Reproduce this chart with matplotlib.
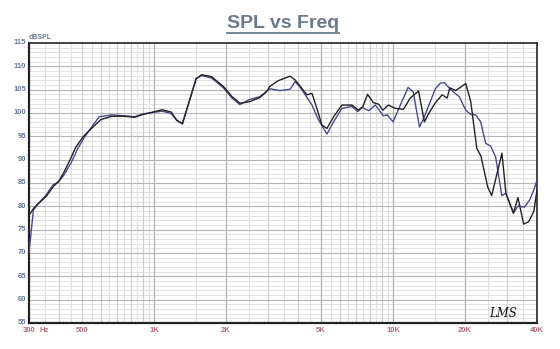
import matplotlib
matplotlib.use("Agg")
import matplotlib.pyplot as plt
import numpy as np
from matplotlib.lines import Line2D

# Frequency response, driver measured at two positions
freq_black = [300, 315, 335, 355, 380, 400, 420, 445, 470, 505, 545, 600, 665, 750,
              830, 900, 990, 1080, 1180, 1245, 1315, 1410, 1500, 1580, 1740, 1950,
              2120, 2290, 2500, 2770, 2950, 3050, 3300, 3710, 3890, 4360, 4580, 4800,
              5040, 5290, 5640, 6110, 6730, 7170, 7480, 7820, 8280, 8690, 9060, 9560,
              10190, 11050, 11790, 12780, 13520, 14100, 15030, 16040, 16840, 17270,
              18270, 20140, 21140, 22400, 23300, 24870, 25850, 28540, 29650, 31880,
              33290, 35160, 36920, 38790, 40000]
spl_black = [78.1, 79.7, 81.0, 82.2, 84.3, 85.4, 87.3, 89.9, 92.6, 94.9, 96.6, 98.6, 99.3, 99.3,
             99.1, 99.7, 100.2, 100.7, 100.2, 98.4, 97.8, 102.8, 107.3, 108.2, 107.8, 105.7,
             103.5, 102.1, 102.4, 103.3, 104.5, 105.7, 106.9, 107.9, 107.1, 103.9, 104.2, 101.0,
             97.4, 96.7, 99.2, 101.7, 101.7, 100.6, 101.4, 104.0, 102.2, 101.9, 100.6, 101.7,
             101.0, 100.8, 103.2, 104.7, 98.1, 99.9, 102.2, 103.9, 103.2, 105.4,
             104.8, 106.3, 102.4, 92.4, 90.8, 84.2, 82.3, 91.4, 82.8, 78.5,
             81.9, 76.2, 76.7, 78.9, 83.5]

freq_blue = [300, 313, 333, 350, 378, 398, 420, 450, 480, 510, 550, 590, 665, 750,
             830, 900, 990, 1080, 1180, 1245, 1315, 1410, 1500, 1580, 1740, 1950,
             2110, 2286, 2510, 2770, 3050, 3366, 3710, 3890, 4080, 4580, 4880, 5290,
             5640, 6110, 6730, 7110, 7420, 7910, 8430, 9110, 9450, 10000, 10660, 11560,
             12140, 12900, 13420, 15030, 15780, 16400, 17430, 18910, 20140, 21140,
             22160, 23250, 24400, 25600, 26850, 28500, 29650, 31880, 33400, 35400,
             37300, 38790, 40000]
spl_blue = [70.0, 79.2, 81.0, 82.1, 84.6, 85.2, 86.7, 89.3, 92.4, 94.7, 97.1, 99.2, 99.6, 99.4,
            99.2, 99.8, 100.1, 100.4, 99.9, 98.5, 97.6, 102.8, 107.4, 108.0, 107.5, 105.4,
            103.3, 101.8, 102.9, 103.5, 105.2, 104.8, 105.1, 106.7, 105.6, 101.7, 98.5, 95.5,
            98.1, 101.0, 101.4, 100.3, 101.2, 100.5, 101.7, 99.4, 99.6, 98.1, 101.4, 105.5,
            104.5, 97.0, 98.8, 105.2, 106.4, 106.5, 105.0, 103.5, 100.6, 99.7,
            99.6, 98.1, 93.5, 92.9, 90.6, 82.3, 82.8, 78.6, 80.1, 79.8,
            81.4, 83.5, 85.6]

x_tick_values = [300, 500, 1000, 2000, 5000, 10000, 20000, 40000]
x_tick_labels = ["300", "500", "1K", "2K", "5K", "10K", "20K", "40K"]
y_tick_values = list(range(55, 116, 5))

plt.rcParams["font.family"] = ["Liberation Sans", "DejaVu Sans"]

fig = plt.figure(figsize=(5.6, 3.49), dpi=100)
fig.patch.set_facecolor("white")
ax = fig.add_axes([29 / 560, 26 / 349, 508 / 560, 280 / 349])
ax.set_xscale("log")
ax.set_xlim(300, 40000)
ax.set_ylim(55, 115)

# grid: 1 dB horizontal, 5 dB emphasised
for v in range(56, 115):
    if v % 5 == 0:
        ax.axhline(v, color="#b4b4b4", lw=0.8, zorder=1)
    else:
        ax.axhline(v, color="#e2e2e2", lw=0.7, zorder=0.5)

# vertical grid: half-steps within each decade
vlines_dark = []
vlines_light = []
for f in range(350, 1000, 50):
    (vlines_dark if f % 100 == 0 else vlines_light).append(f)
vlines_dark.append(1000)
vlines_light.append(1500)
for f in range(2000, 10001, 500):
    (vlines_dark if f % 1000 == 0 else vlines_light).append(f)
for f in range(15000, 40000, 5000):
    (vlines_dark if f % 10000 == 0 else vlines_light).append(f)
for f in vlines_light:
    ax.axvline(f, color="#e0e0e0", lw=0.8, zorder=0.6)
for f in vlines_dark:
    strong = f in (1000, 2000, 5000, 10000, 20000)
    ax.axvline(f, color="#b0b0b0" if strong else "#cfcfcf", lw=0.9, zorder=0.7)

ax.plot(freq_blue, spl_blue, color="#4a4a8c", lw=1.0, zorder=3)
ax.plot(freq_black, spl_black, color="#222222", lw=1.0, zorder=4)

for s in ax.spines.values():
    s.set_color("#222222")
    s.set_linewidth(1.2)
ax.spines["bottom"].set_linewidth(1.6)
ax.spines["left"].set_linewidth(1.6)

ax.set_xticks([])
ax.set_yticks([])
ax.xaxis.set_minor_locator(matplotlib.ticker.NullLocator())

ylab_color = "#6a7896"
xlab_color = "#b36a78"
for v in y_tick_values:
    ax.text(-0.006, v, str(v), transform=ax.get_yaxis_transform(), ha="right",
            va="center", fontsize=5.5, fontweight="bold", color=ylab_color)
for f, lab in zip(x_tick_values, x_tick_labels):
    ax.text(f, -0.014, lab, transform=ax.get_xaxis_transform(), ha="center",
            va="top", fontsize=5.5, fontweight="bold", color=xlab_color)
ax.text(348, -0.014, "Hz", transform=ax.get_xaxis_transform(), ha="center",
        va="top", fontsize=5.5, fontweight="bold", color=xlab_color)
ax.text(0.0, 1.008, "dBSPL", transform=ax.transAxes, ha="left", va="bottom",
        fontsize=5, fontweight="bold", color=ylab_color)

ax.text(0.96, 0.012, "LMS", transform=ax.transAxes, ha="right", va="bottom",
        fontsize=8.5, style="italic", family="DejaVu Serif", color="#111111")

title = fig.text(283 / 560, 1 - 23 / 349, "SPL vs Freq", ha="center", va="center",
                 fontsize=14, fontweight="bold", color="#6b7b8c")
fig.canvas.draw()
bb = title.get_window_extent().transformed(fig.transFigure.inverted())
uy = bb.y0 - 1.5 / 349
fig.add_artist(Line2D([bb.x0, bb.x1], [uy, uy], transform=fig.transFigure,
                      color="#6b7b8c", lw=1.3))

fig.savefig("out.png", dpi=100, facecolor="white")
